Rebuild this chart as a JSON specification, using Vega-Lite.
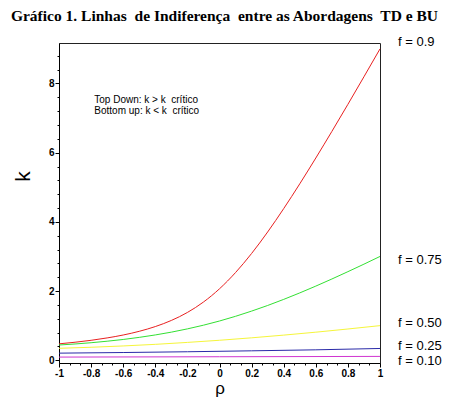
{
  "$schema": "https://vega.github.io/schema/vega-lite/v6.json",
  "width": 321,
  "height": 320,
  "autosize": "none",
  "padding": {"left": 59, "top": 43, "right": 74, "bottom": 42},
  "background": "white",
  "title": {
    "text": "Gráfico 1. Linhas\u00a0 de Indiferença\u00a0 entre as Abordagens\u00a0 TD e BU",
    "font": "Liberation Serif",
    "fontSize": 15.5,
    "fontWeight": "bold",
    "color": "black",
    "anchor": "middle",
    "baseline": "alphabetic",
    "dx": 5,
    "offset": 0
  },
  "config": {
    "view": {"stroke": "#222", "strokeWidth": 1},
    "axis": {
      "grid": false,
      "labelFont": "Liberation Sans",
      "labelFontWeight": "bold",
      "labelFontSize": 10,
      "labelColor": "black",
      "tickColor": "black",
      "domainColor": "black",
      "labelPadding": 1,
      "titleColor": "black",
      "titleFont": "Liberation Sans",
      "titleFontWeight": "normal"
    }
  },
  "datasets": {
    "curves": [
      {"f": "0.9", "rho": -1, "k": 0.474},
      {"f": "0.9", "rho": -0.9, "k": 0.52},
      {"f": "0.9", "rho": -0.8, "k": 0.576},
      {"f": "0.9", "rho": -0.7, "k": 0.645},
      {"f": "0.9", "rho": -0.6, "k": 0.729},
      {"f": "0.9", "rho": -0.5, "k": 0.836},
      {"f": "0.9", "rho": -0.4, "k": 0.973},
      {"f": "0.9", "rho": -0.3, "k": 1.15},
      {"f": "0.9", "rho": -0.2, "k": 1.381},
      {"f": "0.9", "rho": -0.1, "k": 1.682},
      {"f": "0.9", "rho": 0, "k": 2.065},
      {"f": "0.9", "rho": 0.1, "k": 2.535},
      {"f": "0.9", "rho": 0.2, "k": 3.086},
      {"f": "0.9", "rho": 0.3, "k": 3.707},
      {"f": "0.9", "rho": 0.4, "k": 4.383},
      {"f": "0.9", "rho": 0.5, "k": 5.099},
      {"f": "0.9", "rho": 0.6, "k": 5.845},
      {"f": "0.9", "rho": 0.7, "k": 6.613},
      {"f": "0.9", "rho": 0.8, "k": 7.397},
      {"f": "0.9", "rho": 0.9, "k": 8.194},
      {"f": "0.9", "rho": 1, "k": 9.0},
      {"f": "0.75", "rho": -1, "k": 0.44},
      {"f": "0.75", "rho": -0.9, "k": 0.47},
      {"f": "0.75", "rho": -0.8, "k": 0.506},
      {"f": "0.75", "rho": -0.7, "k": 0.55},
      {"f": "0.75", "rho": -0.6, "k": 0.6},
      {"f": "0.75", "rho": -0.5, "k": 0.661},
      {"f": "0.75", "rho": -0.4, "k": 0.731},
      {"f": "0.75", "rho": -0.3, "k": 0.812},
      {"f": "0.75", "rho": -0.2, "k": 0.906},
      {"f": "0.75", "rho": -0.1, "k": 1.013},
      {"f": "0.75", "rho": 0, "k": 1.134},
      {"f": "0.75", "rho": 0.1, "k": 1.27},
      {"f": "0.75", "rho": 0.2, "k": 1.42},
      {"f": "0.75", "rho": 0.3, "k": 1.583},
      {"f": "0.75", "rho": 0.4, "k": 1.759},
      {"f": "0.75", "rho": 0.5, "k": 1.946},
      {"f": "0.75", "rho": 0.6, "k": 2.143},
      {"f": "0.75", "rho": 0.7, "k": 2.348},
      {"f": "0.75", "rho": 0.8, "k": 2.56},
      {"f": "0.75", "rho": 0.9, "k": 2.777},
      {"f": "0.75", "rho": 1, "k": 3.0},
      {"f": "0.5", "rho": -1, "k": 0.345},
      {"f": "0.5", "rho": -0.8, "k": 0.375},
      {"f": "0.5", "rho": -0.6, "k": 0.413},
      {"f": "0.5", "rho": -0.4, "k": 0.459},
      {"f": "0.5", "rho": -0.2, "k": 0.515},
      {"f": "0.5", "rho": 0, "k": 0.577},
      {"f": "0.5", "rho": 0.2, "k": 0.648},
      {"f": "0.5", "rho": 0.4, "k": 0.726},
      {"f": "0.5", "rho": 0.6, "k": 0.811},
      {"f": "0.5", "rho": 0.8, "k": 0.903},
      {"f": "0.5", "rho": 1, "k": 1.0},
      {"f": "0.25", "rho": -1, "k": 0.205},
      {"f": "0.25", "rho": -0.6, "k": 0.223},
      {"f": "0.25", "rho": -0.2, "k": 0.245},
      {"f": "0.25", "rho": 0.2, "k": 0.272},
      {"f": "0.25", "rho": 0.6, "k": 0.301},
      {"f": "0.25", "rho": 1, "k": 0.34},
      {"f": "0.1", "rho": -1, "k": 0.091},
      {"f": "0.1", "rho": 0, "k": 0.101},
      {"f": "0.1", "rho": 1, "k": 0.111}
    ],
    "flabels": [
      {"label": "f = 0.9", "rho": 1, "k": 9.19},
      {"label": "f = 0.75", "rho": 1, "k": 2.91},
      {"label": "f = 0.50", "rho": 1, "k": 1.08},
      {"label": "f = 0.25", "rho": 1, "k": 0.4},
      {"label": "f = 0.10", "rho": 1, "k": -0.03}
    ],
    "notes": [
      {"label": "Top Down: k > k\u00a0 crítico", "rho": -0.78, "k": 7.53},
      {"label": "Bottom up: k < k\u00a0 crítico", "rho": -0.78, "k": 7.19}
    ]
  },
  "encoding": {
    "x": {
      "field": "rho",
      "type": "quantitative",
      "scale": {"domain": [-1, 1], "nice": false, "zero": false},
      "axis": {
        "title": "ρ",
        "titleFontSize": 17,
        "titleBaseline": "alphabetic",
        "titleY": 30,
        "values": [-1, -0.9333, -0.8667, -0.8, -0.7333, -0.6667, -0.6, -0.5333, -0.4667, -0.4, -0.3333, -0.2667, -0.2, -0.1333, -0.0667, 0, 0.0667, 0.1333, 0.2, 0.2667, 0.3333, 0.4, 0.4667, 0.5333, 0.6, 0.6667, 0.7333, 0.8, 0.8667, 0.9333, 1],
        "labelExpr": "abs(datum.value * 5 - round(datum.value * 5)) < 0.01 ? '' + datum.value : ''",
        "tickSize": {"condition": {"test": "abs(datum.value * 5 - round(datum.value * 5)) < 0.01", "value": 4}, "value": 2},
        "labelFlush": false,
        "labelOverlap": false
      }
    },
    "y": {
      "field": "k",
      "type": "quantitative",
      "scale": {"domain": [-0.08, 9.17], "nice": false, "zero": false},
      "axis": {
        "title": "k",
        "titleFontSize": 21,
        "titleAngle": -90,
        "titleBaseline": "middle",
        "titleX": -36,
        "titleY": 133,
        "values": [0, 0.4, 0.8, 1.2, 1.6, 2, 2.4, 2.8, 3.2, 3.6, 4, 4.4, 4.8, 5.2, 5.6, 6, 6.4, 6.8, 7.2, 7.6, 8, 8.4, 8.8],
        "labelExpr": "abs(datum.value / 2 - round(datum.value / 2)) < 0.01 ? '' + datum.value : ''",
        "tickSize": {"condition": {"test": "abs(datum.value / 2 - round(datum.value / 2)) < 0.01", "value": 4}, "value": 2},
        "labelFlush": false,
        "labelOverlap": false
      }
    }
  },
  "layer": [
    {
      "data": {"name": "curves"},
      "mark": {"type": "line", "strokeWidth": 1, "interpolate": "monotone"},
      "encoding": {
        "color": {
          "field": "f",
          "type": "nominal",
          "legend": null,
          "scale": {
            "domain": ["0.9", "0.75", "0.5", "0.25", "0.1"],
            "range": ["#e82020", "#33e033", "#f5f53a", "#2a2aa8", "#d035d0"]
          }
        }
      }
    },
    {
      "data": {"name": "flabels"},
      "mark": {"type": "text", "align": "left", "baseline": "middle", "dx": 18, "font": "Liberation Sans", "fontSize": 13, "color": "black"},
      "encoding": {"text": {"field": "label"}}
    },
    {
      "data": {"name": "notes"},
      "mark": {"type": "text", "align": "left", "baseline": "middle", "font": "Liberation Sans", "fontSize": 10, "color": "black"},
      "encoding": {"text": {"field": "label"}}
    }
  ]
}
